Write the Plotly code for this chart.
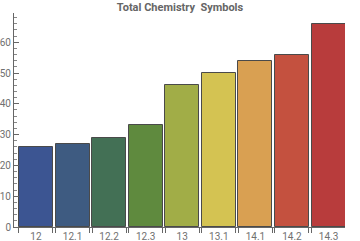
import plotly.graph_objects as go

categories = ["12", "12.1", "12.2", "12.3", "13", "13.1", "14.1", "14.2", "14.3"]
values = [26, 27, 29, 33, 46, 50, 54, 56, 66]
colors = ["#3c5592", "#3e5b81", "#437055", "#5f8a3e", "#a1ad47",
          "#d4c352", "#d9a052", "#c4513f", "#b83c3c"]
y_ticks = [0, 10, 20, 30, 40, 50, 60]

bar_w = 0.93
pos = list(range(len(categories)))
edges = []
for p in pos:
    edges += [p - bar_w / 2, p + bar_w / 2]

fig = go.Figure()
fig.add_trace(go.Bar(
    x=pos, y=values, width=bar_w,
    marker=dict(color=colors, line=dict(color="#4a4a4a", width=1)),
    showlegend=False, hoverinfo="skip",
))
# invisible trace to activate secondary x-axis for edge ticks
fig.add_trace(go.Scatter(x=[pos[0]], y=[0], xaxis="x2", mode="markers",
                         marker=dict(opacity=0), showlegend=False, hoverinfo="skip"))

font_col = "#707070"
fig.update_layout(
    width=360, height=241,
    margin=dict(l=14, r=15, t=13, b=14),
    paper_bgcolor="white", plot_bgcolor="white",
    title=dict(text="<b>Total Chemistry  Symbols</b>", x=0.5, xanchor="center",
               y=1 - 7 / 241, yanchor="middle", automargin=False,
               font=dict(family="Roboto", size=11, color="#666666")),
    font=dict(family="Roboto", size=10, color=font_col),
    xaxis=dict(range=[-0.6, 8.45], tickvals=pos, ticktext=categories,
               ticks="", showgrid=False, zeroline=False, automargin=False,
               showline=True, linecolor="#666666", linewidth=1,
               tickfont=dict(size=10, color=font_col)),
    xaxis2=dict(range=[-0.6, 8.45], overlaying="x", side="bottom",
                tickvals=edges, ticks="outside", ticklen=5, tickwidth=1,
                tickcolor="#666666", showticklabels=False, showgrid=False,
                zeroline=False, showline=False, automargin=False),
    yaxis=dict(range=[0, 69.5], tickvals=y_ticks, ticks="inside", ticklen=5,
               tickcolor="#666666", showgrid=False, zeroline=False,
               automargin=False,
               showline=True, linecolor="#666666", linewidth=1,
               minor=dict(dtick=2, ticks="inside", ticklen=3, tickcolor="#888888"),
               tickfont=dict(size=10, color=font_col)),
    bargap=0,
)
fig.write_html("out.html")
